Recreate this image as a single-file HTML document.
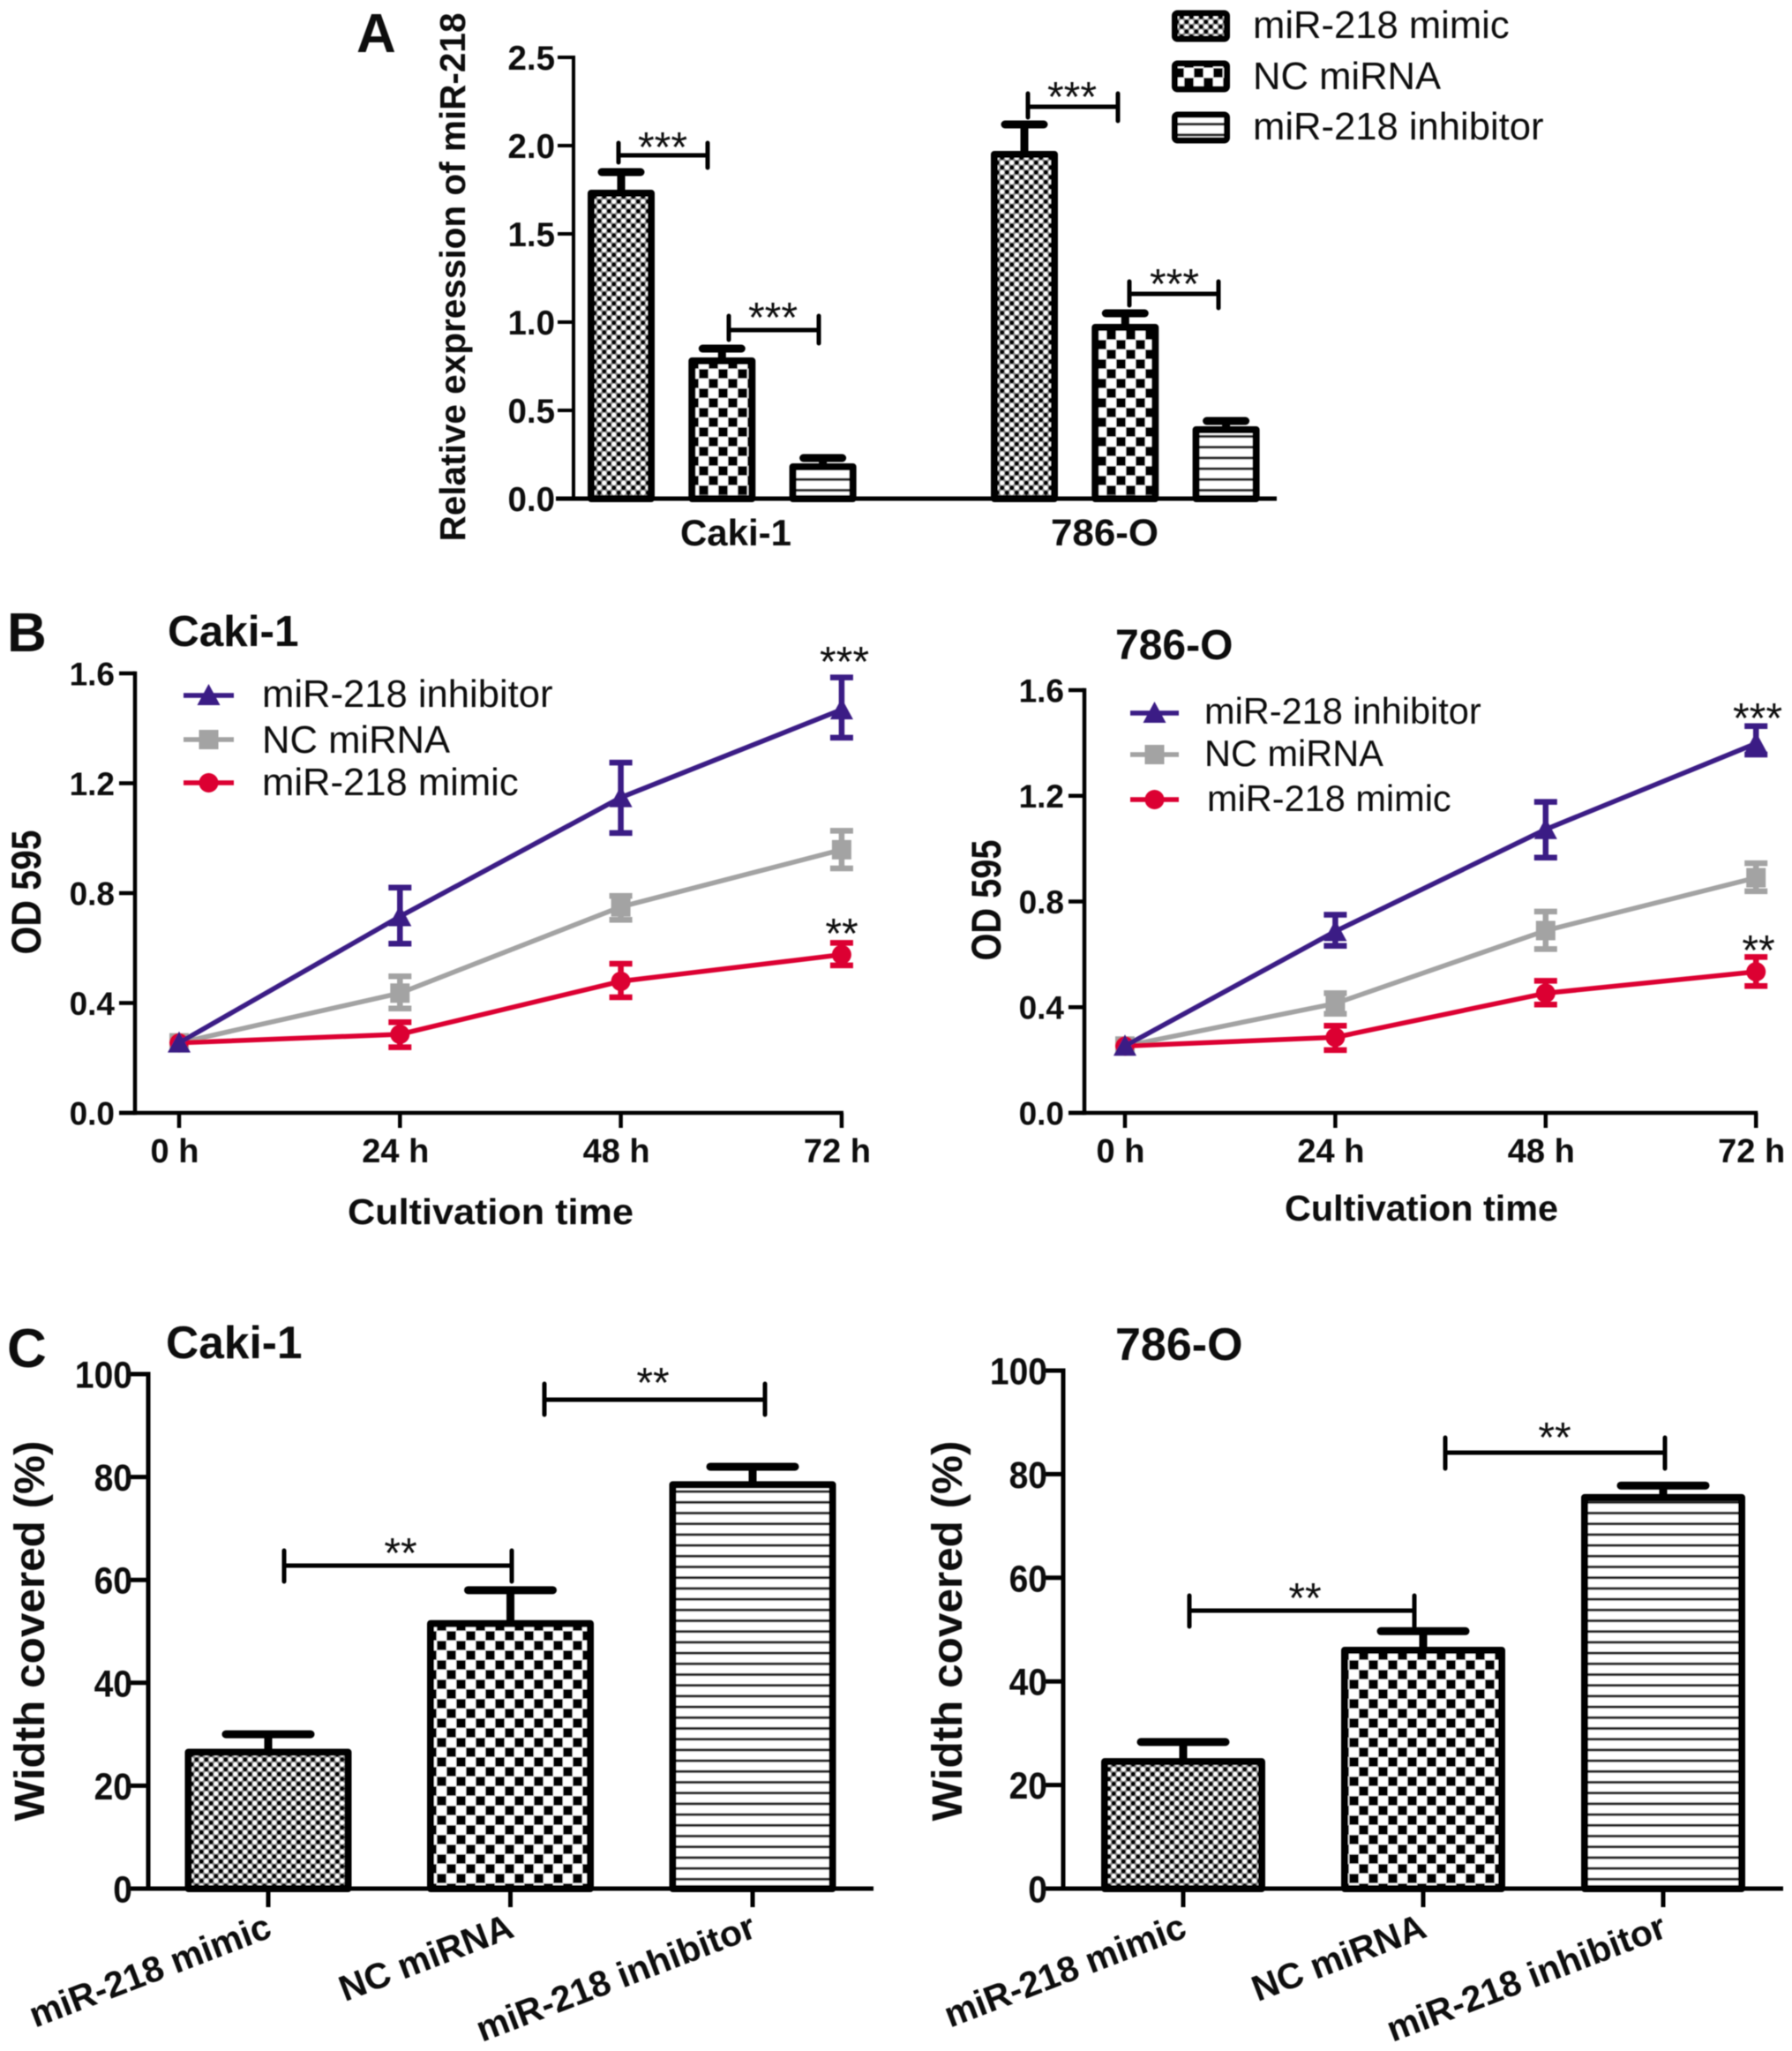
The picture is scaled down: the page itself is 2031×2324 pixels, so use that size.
<!DOCTYPE html>
<html lang="en">
<head>
<meta charset="utf-8">
<title>miR-218 figure</title>
<style>
html,body{margin:0;padding:0;background:#fff;}
svg{display:block;}
text{font-family:"Liberation Sans",Arial,sans-serif;fill:#111;}
.b{font-weight:bold;}
.star{font-size:48px;text-anchor:middle;}
.leg{font-size:43.6px;}
.br{stroke:#000;stroke-width:5;fill:none;stroke-linecap:round;}
</style>
</head>
<body>
<svg id="figure" xmlns="http://www.w3.org/2000/svg" width="2031" height="2324" viewBox="0 0 2031 2324">
<defs>
<pattern id="dots" patternUnits="userSpaceOnUse" width="11" height="11">
  <rect width="11" height="11" fill="#8c8c8c"/>
  <circle cx="2.75" cy="2.75" r="2.6" fill="#000"/>
  <circle cx="8.25" cy="8.25" r="2.6" fill="#000"/>
  <circle cx="8.25" cy="2.75" r="2.5" fill="#fff"/>
  <circle cx="2.75" cy="8.25" r="2.5" fill="#fff"/>
</pattern>
<pattern id="checks" patternUnits="userSpaceOnUse" width="22" height="22">
  <rect width="22" height="22" fill="#fff"/>
  <rect x="0.25" y="0.25" width="10.5" height="10.5" fill="#000"/>
  <rect x="11.25" y="11.25" width="10.5" height="10.5" fill="#000"/>
</pattern>
<pattern id="stripes" patternUnits="userSpaceOnUse" width="12.2" height="12.2">
  <rect width="12.2" height="12.2" fill="#fff"/>
  <rect y="5" width="12.2" height="3" fill="#222"/>
</pattern>
<filter id="soft" x="0" y="0" width="100%" height="100%"><feGaussianBlur stdDeviation="0.6"/></filter>
</defs>
<rect width="2031" height="2324" fill="#fff"/>
<g filter="url(#soft)">

<g id="panel-a">
  <text class="b" x="404" y="59" font-size="62">A</text>
  <text class="b" font-size="41" text-anchor="middle" textLength="599" lengthAdjust="spacingAndGlyphs" transform="translate(527,314) rotate(-90)">Relative expression of miR-218</text>
  <text class="b" x="834" y="618" font-size="42" text-anchor="middle">Caki-1</text>
  <text class="b" x="1252" y="618" font-size="43" text-anchor="middle" textLength="122" lengthAdjust="spacingAndGlyphs">786-O</text>
  <g>
    <rect x="1331.5" y="15" width="59" height="29" rx="3" fill="url(#dots)" stroke="#000" stroke-width="7"/>
    <text class="leg" x="1420" y="43">miR-218 mimic</text>
    <rect x="1331.5" y="72" width="59" height="29" rx="3" fill="url(#checks)" stroke="#000" stroke-width="7"/>
    <text class="leg" x="1420" y="101">NC miRNA</text>
    <rect x="1331.5" y="130" width="59" height="29" rx="3" fill="url(#stripes)" stroke="#000" stroke-width="7"/>
    <text class="leg" x="1420" y="158">miR-218 inhibitor</text>
  </g>
  <path class="br" d="M701 162V184M701 176H802M802 162V190"/>
  <text class="star" x="751" y="183">***</text>
  <path class="br" d="M826 358V385M826 374H928M928 358V389"/>
  <text class="star" x="876" y="376">***</text>
  <path class="br" d="M1165 106V133M1165 121H1267M1267 106V137"/>
  <text class="star" x="1215" y="126">***</text>
  <path class="br" d="M1280 319V346M1280 333H1381M1381 319V349"/>
  <text class="star" x="1331" y="338">***</text>
</g>

<g id="panel-b-left">
  <text class="b" x="8" y="738" font-size="62">B</text>
  <text class="b" x="190" y="732" font-size="49.5">Caki-1</text>
  <text class="b" font-size="47" text-anchor="middle" textLength="141" lengthAdjust="spacingAndGlyphs" transform="translate(46,1011) rotate(-90)">OD 595</text>
  <text class="b" x="556" y="1387" font-size="41" text-anchor="middle" textLength="324" lengthAdjust="spacingAndGlyphs">Cultivation time</text>
  <text class="leg" x="297" y="801">miR-218 inhibitor</text>
  <text class="leg" x="297" y="853">NC miRNA</text>
  <text class="leg" x="297" y="901">miR-218 mimic</text>
  <text class="star" x="957" y="766">***</text>
  <text class="star" x="954" y="1074">**</text>
</g>

<g id="panel-b-right">
  <text class="b" x="1264" y="747" font-size="48">786-O</text>
  <text class="b" font-size="47" text-anchor="middle" textLength="137" lengthAdjust="spacingAndGlyphs" transform="translate(1134,1020) rotate(-90)">OD 595</text>
  <text class="b" x="1611" y="1383" font-size="41" text-anchor="middle" textLength="310" lengthAdjust="spacingAndGlyphs">Cultivation time</text>
  <text class="leg" style="font-size:41.5px" x="1365" y="820">miR-218 inhibitor</text>
  <text class="leg" style="font-size:41.5px" x="1365" y="868">NC miRNA</text>
  <text class="leg" style="font-size:41.5px" x="1368" y="919">miR-218 mimic</text>
  <text class="star" x="1992" y="830">***</text>
  <text class="star" x="1993" y="1093">**</text>
</g>

<g id="panel-c-left">
  <text class="b" x="8" y="1549" font-size="62">C</text>
  <text class="b" x="188" y="1539" font-size="51.5">Caki-1</text>
  <text class="b" font-size="48" text-anchor="middle" textLength="431" lengthAdjust="spacingAndGlyphs" transform="translate(50,1848) rotate(-90)">Width covered (%)</text>
  <path class="br" d="M322 1757V1792M322 1774H580M580 1757V1792"/>
  <text class="star" x="454" y="1776">**</text>
  <path class="br" d="M617 1568V1603M617 1586H867M867 1568V1603"/>
  <text class="star" x="740" y="1583">**</text>
</g>

<g id="panel-c-right">
  <text class="b" x="1264" y="1541" font-size="52">786-O</text>
  <text class="b" font-size="48" text-anchor="middle" textLength="431" lengthAdjust="spacingAndGlyphs" transform="translate(1090,1848) rotate(-90)">Width covered (%)</text>
  <path class="br" d="M1348 1808V1843M1348 1825H1603M1603 1808V1843"/>
  <text class="star" x="1479" y="1827">**</text>
  <path class="br" d="M1638 1629V1664M1638 1646H1887M1887 1629V1664"/>
  <text class="star" x="1762" y="1645">**</text>
</g>

</g>
</svg>
<script>
// ---- Panel A data ----
var aTickLabels = ['0.0', '0.5', '1.0', '1.5', '2.0', '2.5'];
var aMimic = [1.73, 1.95];
var aNc = [0.78, 0.97];
var aInhibitor = [0.18, 0.39];
var aMimicTop = [1.85, 2.12];
var aNcTop = [0.85, 1.05];
var aInhibitorTop = [0.23, 0.44];

// ---- Panel B data ----
var timeLabels = ['0 h', '24 h', '48 h', '72 h'];
var odTickLabels = ['0.0', '0.4', '0.8', '1.2', '1.6'];
var b1Inhibitor = [0.255, 0.715, 1.148, 1.468];
var b1InhibitorHi = [0.255, 0.82, 1.275, 1.585];
var b1InhibitorLo = [0.255, 0.616, 1.019, 1.366];
var b1Nc = [0.255, 0.436, 0.75, 0.958];
var b1NcHi = [0.255, 0.497, 0.79, 1.027];
var b1NcLo = [0.255, 0.38, 0.703, 0.89];
var b1Mimic = [0.255, 0.286, 0.479, 0.576];
var b1MimicHi = [0.255, 0.33, 0.543, 0.619];
var b1MimicLo = [0.255, 0.239, 0.421, 0.537];
var b2Inhibitor = [0.253, 0.687, 1.073, 1.398];
var b2InhibitorHi = [0.253, 0.75, 1.177, 1.464];
var b2InhibitorLo = [0.253, 0.632, 0.966, 1.356];
var b2Nc = [0.253, 0.414, 0.69, 0.89];
var b2NcHi = [0.253, 0.453, 0.762, 0.945];
var b2NcLo = [0.253, 0.375, 0.62, 0.839];
var b2Mimic = [0.253, 0.286, 0.453, 0.534];
var b2MimicHi = [0.253, 0.33, 0.5, 0.59];
var b2MimicLo = [0.253, 0.2375, 0.41, 0.48];

// ---- Panel C data ----
var cCategories = ['miR-218 mimic', 'NC miRNA', 'miR-218 inhibitor'];
var cTickLabels = ['0', '20', '40', '60', '80', '100'];
var c1Values = [26.5, 51.5, 78.5];
var c1Tops = [30, 58, 82];
var c2Values = [24.5, 46, 75.5];
var c2Tops = [28.3, 49.7, 77.8];

var NS = 'http://www.w3.org/2000/svg';
function mk(parent, tag, attrs, name) {
  var el = document.createElementNS(NS, tag);
  for (var k in attrs) el.setAttribute(k, attrs[k]);
  
  
  parent.appendChild(el);
  return el;
}
function seg(parent, x1, y1, x2, y2, w, color, name, cap) {
  return mk(parent, 'line', {x1: x1, y1: y1, x2: x2, y2: y2, stroke: color, 'stroke-width': w, 'stroke-linecap': cap || 'butt'}, name);
}
function label(parent, str, x, y, size, anchor, name, fit) {
  var attrs = {x: x, y: y, 'font-size': size, 'font-weight': 'bold', 'text-anchor': anchor};
  if (fit) { attrs.textLength = fit; attrs.lengthAdjust = 'spacingAndGlyphs'; }
  var el = mk(parent, 'text', attrs, name);
  el.textContent = str;
  return el;
}
function yAxis(parent, labels, y, axisX, tickLen, axisW, size, gap, fitPerChar, slug) {
  var vals = labels.map(parseFloat);
  var top = y(vals[vals.length - 1]), bot = y(vals[0]);
  seg(parent, axisX, top - axisW / 2, axisX, bot + axisW / 2, axisW, '#000', 'y-axis-' + slug);
  labels.forEach(function (t, i) {
    seg(parent, axisX - tickLen, y(vals[i]), axisX, y(vals[i]), axisW, '#000', 'y-tick-' + slug + '-' + t);
    label(parent, t, axisX - tickLen - gap, y(vals[i]) + size * 0.36, size, 'end', 'y-tick-label-' + slug + '-' + t, fitPerChar ? fitPerChar * t.length : 0);
  });
}
function barMark(parent, cx, val, top, y, w, fill, capW, name) {
  var bw = 8;
  seg(parent, cx, y(val), cx, y(top), 9, '#000', 'error-stem-' + name);
  seg(parent, cx - capW / 2, y(top), cx + capW / 2, y(top), 9, '#000', 'error-cap-' + name, 'round');
  mk(parent, 'rect', {x: cx - w / 2 + bw / 2, y: y(val), width: w - bw, height: y(0) - y(val), fill: 'url(#' + fill + ')', stroke: '#000', 'stroke-width': bw, 'stroke-linejoin': 'round'}, 'bar-' + name);
}

// ---- Panel A ----
(function () {
  var g = document.getElementById('panel-a');
  var y = function (v) { return 565 - v / 2.5 * 500; };
  var x = function (group, slot) { return 704 + 114.3 * slot + 457 * group; };
  var series = [
    {v: aMimic, t: aMimicTop, f: 'dots', n: 'mimic'},
    {v: aNc, t: aNcTop, f: 'checks', n: 'nc'},
    {v: aInhibitor, t: aInhibitorTop, f: 'stripes', n: 'inhibitor'}
  ];
  series.forEach(function (s, si) {
    s.v.forEach(function (val, gi) {
      barMark(g, x(gi, si), val, s.t[gi], y, 76, s.f, 44, 'a-' + s.n + '-' + gi);
    });
  });
  seg(g, 630, y(0), 1447, y(0), 5, '#000', 'x-axis-a');
  yAxis(g, aTickLabels, y, 650, 18, 4, 38.5, 3, 0, 'a');
})();

// ---- Panel B ----
function lineChart(gid, x, y, axisX, slug, rows, legendX, legendYs, legendW) {
  var g = document.getElementById(gid);
  var y0 = y(0);
  yAxis(g, odTickLabels, y, axisX, 18, 4.5, 37, 5, 0, slug);
  seg(g, axisX - 18, y0, x(3) + 2, y0, 4.5, '#000', 'x-axis-' + slug);
  timeLabels.forEach(function (t, i) {
    seg(g, x(i), y0, x(i), y0 + 17, 4.5, '#000', 'x-tick-' + slug + '-' + i);
    label(g, t, x(i) - 5, y0 + 56, 38, 'middle', 'x-tick-label-' + slug + '-' + i);
  });
  rows.forEach(function (r, ri) {
    var pts = r.v.map(function (v, i) { return x(i) + ',' + y(v); }).join(' ');
    mk(g, 'polyline', {points: pts, fill: 'none', stroke: r.c, 'stroke-width': 5.5, 'stroke-linejoin': 'round'}, 'line-' + slug + '-' + r.n);
    r.v.forEach(function (v, i) {
      if (r.hi[i] !== r.lo[i]) {
        seg(g, x(i), y(r.hi[i]), x(i), y(r.lo[i]), 6.5, r.c, 'error-bar-' + slug + '-' + r.n + '-' + i);
        seg(g, x(i) - 13, y(r.hi[i]), x(i) + 13, y(r.hi[i]), 6.5, r.c, 'error-cap-hi-' + slug + '-' + r.n + '-' + i);
        seg(g, x(i) - 13, y(r.lo[i]), x(i) + 13, y(r.lo[i]), 6.5, r.c, 'error-cap-lo-' + slug + '-' + r.n + '-' + i);
      }
      marker(g, r.m, x(i), y(v), r.c, 'point-' + slug + '-' + r.n + '-' + i);
    });
    var ly = legendYs[ri];
    seg(g, legendX, ly, legendX + legendW, ly, 5.5, r.c, 'legend-line-' + slug + '-' + r.n);
    marker(g, r.m, legendX + legendW / 2, ly, r.c, 'legend-marker-' + slug + '-' + r.n);
  });
}
function marker(g, kind, cx, cy, color, name) {
  if (kind === 'tri') {
    mk(g, 'polygon', {points: (cx - 13) + ',' + (cy + 11) + ' ' + (cx + 13) + ',' + (cy + 11) + ' ' + cx + ',' + (cy - 13), fill: color}, name);
  } else if (kind === 'sq') {
    mk(g, 'rect', {x: cx - 11, y: cy - 11, width: 22, height: 22, fill: color}, name);
  } else {
    mk(g, 'circle', {cx: cx, cy: cy, r: 11, fill: color}, name);
  }
}
var PURPLE = '#3a1a85', GREY = '#a3a3a3', RED = '#dc0530';
lineChart('panel-b-left',
  function (i) { return 203 + i * 250.3; },
  function (v) { return 1261 - v / 1.6 * 498; },
  153, 'b1', [
    {v: b1Nc, hi: b1NcHi, lo: b1NcLo, c: GREY, m: 'sq', n: 'nc'},
    {v: b1Mimic, hi: b1MimicHi, lo: b1MimicLo, c: RED, m: 'ci', n: 'mimic'},
    {v: b1Inhibitor, hi: b1InhibitorHi, lo: b1InhibitorLo, c: PURPLE, m: 'tri', n: 'inhibitor'}
  ], 208, [838, 887, 788], 57);
lineChart('panel-b-right',
  function (i) { return 1275 + i * 238.4; },
  function (v) { return 1261 - v / 1.6 * 479; },
  1229, 'b2', [
    {v: b2Nc, hi: b2NcHi, lo: b2NcLo, c: GREY, m: 'sq', n: 'nc'},
    {v: b2Mimic, hi: b2MimicHi, lo: b2MimicLo, c: RED, m: 'ci', n: 'mimic'},
    {v: b2Inhibitor, hi: b2InhibitorHi, lo: b2InhibitorLo, c: PURPLE, m: 'tri', n: 'inhibitor'}
  ], 1281, [855, 906, 808], 55);

// ---- Panel C ----
function barChart(gid, vals, tops, x, y, axisX, axisEnd, barW, slug) {
  var g = document.getElementById(gid);
  var fills = ['dots', 'checks', 'stripes'];
  vals.forEach(function (v, i) {
    barMark(g, x(i), v, tops[i], y, barW, fills[i], 96, slug + '-' + i);
  });
  seg(g, axisX - 20, y(0), axisEnd, y(0), 5, '#000', 'x-axis-' + slug);
  yAxis(g, cTickLabels, y, axisX, 20, 5, 43, -2, 21.7, slug);
  cCategories.forEach(function (c, i) {
    seg(g, x(i), y(0), x(i), y(0) + 21, 5, '#000', 'x-tick-' + slug + '-' + i);
    var t = label(g, c, 0, 0, 41, 'end', 'x-tick-label-' + slug + '-' + i);
    t.setAttribute('transform', 'translate(' + (x(i) + 6) + ',' + (y(0) + 54) + ') rotate(-21)');
  });
}
barChart('panel-c-left', c1Values, c1Tops,
  function (i) { return 304 + i * 274.5; },
  function (v) { return 2140 - v * 5.83; },
  168, 990, 189, 'c1');
barChart('panel-c-right', c2Values, c2Tops,
  function (i) { return 1341 + i * 272; },
  function (v) { return 2140 - v * 5.87; },
  1205, 2021, 186, 'c2');
</script>
</body>
</html>
